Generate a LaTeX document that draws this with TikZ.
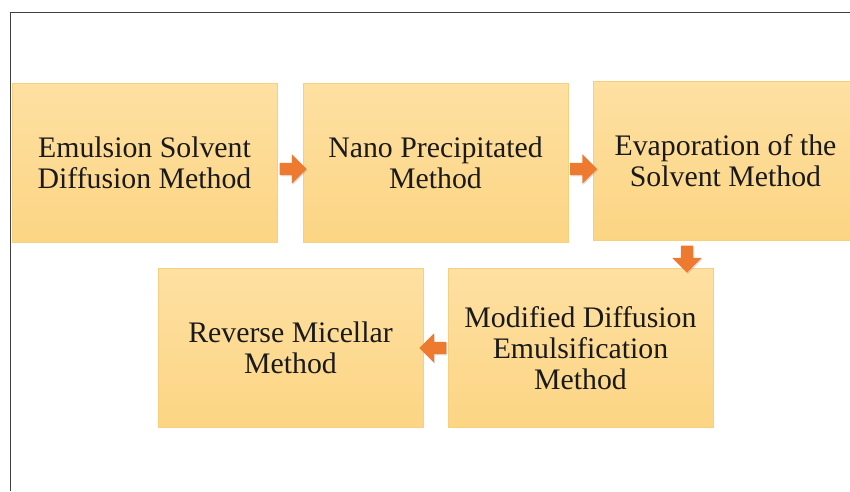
\documentclass[tikz,border=0pt]{standalone}
\usepackage{fontspec}
\setmainfont{Liberation Serif}
\usetikzlibrary{shapes.arrows,shadows}
\definecolor{boxtop}{HTML}{FEE0A2}
\definecolor{boxbot}{HTML}{FCD584}
\definecolor{boxline}{HTML}{F6D07E}
\definecolor{arroworange}{HTML}{EE7A30}
\definecolor{txt}{HTML}{1A1A1A}
\tikzset{
  methodbox/.style={rectangle, minimum width=265pt, minimum height=159pt, inner sep=0pt,
    top color=boxtop, bottom color=boxbot, draw=boxline, line width=0.6pt,
    align=center, font=\fontsize{29.8}{31}\selectfont, text=txt},
  blockarrow/.style={single arrow, fill=arroworange, draw=none, inner sep=6pt,
    minimum width=29pt, minimum height=27pt, single arrow head extend=8.5pt,
    drop shadow={opacity=0.25, shadow xshift=1pt, shadow yshift=-1.2pt}},
  frameline/.style={draw=black!75, line width=1pt}
}
\begin{document}
\begin{tikzpicture}[x=1pt, y=-1pt]
\useasboundingbox (0,0) rectangle (850,491);
\clip (0,0) rectangle (850,491);
\draw[frameline] (10.5,491) -- (10.5,12.5) -- (850,12.5);
\node[methodbox] (b1) at (144.5,162.5) {Emulsion Solvent\\Diffusion Method};
\node[methodbox] (b2) at (435.5,162.5) {Nano Precipitated\\Method};
\node[methodbox] (b3) at (725.5,160.5) {Evaporation of the\\Solvent Method};
\node[methodbox] (b4) at (580.5,348) {Modified Diffusion\\Emulsification\\Method};
\node[methodbox] (b5) at (290.5,348) {Reverse Micellar\\Method};
\node[blockarrow] (a1) at (290,169) {};
\node[blockarrow] (a2) at (580.5,169) {};
\node[blockarrow, shape border rotate=270] (a3) at (687,256) {};
\node[blockarrow, shape border rotate=180] (a4) at (436,348) {};
\end{tikzpicture}
\end{document}
